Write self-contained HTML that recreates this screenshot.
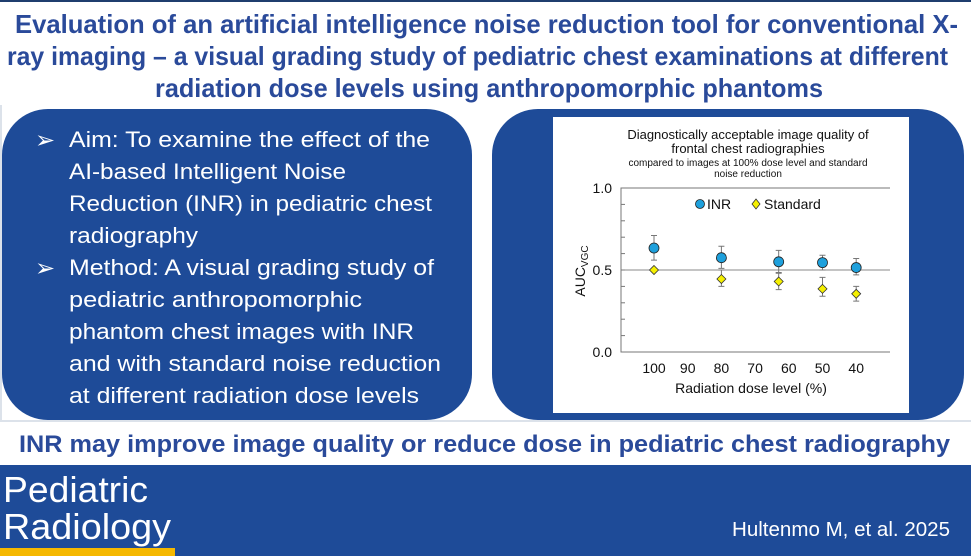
<!DOCTYPE html>
<html><head><meta charset="utf-8"><style>
html,body{margin:0;padding:0;background:#fff;}
svg{display:block;}
</style></head><body>
<svg width="971" height="556" viewBox="0 0 971 556" xmlns="http://www.w3.org/2000/svg" font-family="Liberation Sans, sans-serif">
<line x1="0" y1="1" x2="971" y2="1" stroke="#1f3d6e" stroke-width="2"/>
<g fill="#2a4a9a" font-weight="bold" font-size="26">
<text x="15" y="33" textLength="943" lengthAdjust="spacingAndGlyphs">Evaluation of an artificial intelligence noise reduction tool for conventional X-</text>
<text x="7" y="65" textLength="941" lengthAdjust="spacingAndGlyphs">ray imaging – a visual grading study of pediatric chest examinations at different</text>
<text x="155" y="97" textLength="668" lengthAdjust="spacingAndGlyphs">radiation dose levels using anthropomorphic phantoms</text>
</g>
<line x1="1" y1="105" x2="1" y2="420" stroke="#b8c4d4" stroke-width="1"/>
<line x1="0" y1="421" x2="971" y2="421" stroke="#b8c4d4" stroke-width="1"/>
<rect x="2" y="109" width="470" height="311" rx="46" fill="#1e4b98"/>
<g fill="#fff" font-size="22">
<text x="35" y="148" font-size="24">➢</text>
<text x="69" y="147" textLength="361" lengthAdjust="spacingAndGlyphs">Aim: To examine the effect of the</text>
<text x="69" y="179" textLength="277" lengthAdjust="spacingAndGlyphs">AI-based Intelligent Noise</text>
<text x="69" y="211" textLength="363" lengthAdjust="spacingAndGlyphs">Reduction (INR) in pediatric chest</text>
<text x="69" y="243" textLength="129" lengthAdjust="spacingAndGlyphs">radiography</text>
<text x="35" y="276" font-size="24">➢</text>
<text x="69" y="275" textLength="365" lengthAdjust="spacingAndGlyphs">Method: A visual grading study of</text>
<text x="69" y="307" textLength="293" lengthAdjust="spacingAndGlyphs">pediatric anthropomorphic</text>
<text x="69" y="339" textLength="345" lengthAdjust="spacingAndGlyphs">phantom chest images with INR</text>
<text x="69" y="371" textLength="372" lengthAdjust="spacingAndGlyphs">and with standard noise reduction</text>
<text x="69" y="403" textLength="350" lengthAdjust="spacingAndGlyphs">at different radiation dose levels</text>
</g>
<rect x="492" y="109" width="472" height="311" rx="46" fill="#1e4b98"/>
<rect x="553" y="117" width="356" height="296" fill="#fff"/>
<g id="chart">
<text x="748" y="139" text-anchor="middle" font-size="13" fill="#111">Diagnostically acceptable image quality of</text>
<text x="748" y="153" text-anchor="middle" font-size="13" fill="#111">frontal chest radiographies</text>
<text x="748" y="166" text-anchor="middle" font-size="10" fill="#111">compared to images at 100% dose level and standard</text>
<text x="748" y="177" text-anchor="middle" font-size="10" fill="#111">noise reduction</text>
<text transform="translate(585,271) rotate(-90)" text-anchor="middle" font-size="14" fill="#111">AUC<tspan font-size="10" dy="3">VGC</tspan></text>
<text x="751" y="393" text-anchor="middle" font-size="14" fill="#111">Radiation dose level (%)</text>
<circle cx="700" cy="204" r="4.5" fill="#1ea0dc" stroke="#222" stroke-width="0.8"/>
<text x="707" y="209" font-size="14" fill="#111">INR</text>
<path d="M756 199 L760 204 L756 209 L752 204 Z" fill="#f5f000" stroke="#333" stroke-width="0.8"/>
<text x="764" y="209" font-size="14" fill="#111">Standard</text>
</g>
<text x="19" y="452" textLength="931" lengthAdjust="spacingAndGlyphs" font-size="24" font-weight="bold" fill="#2a4a9a">INR may improve image quality or reduce dose in pediatric chest radiography</text>
<rect x="0" y="465" width="971" height="91" fill="#1e4b98"/>
<rect x="0" y="548" width="175" height="8" fill="#f5b800"/>
<text x="3" y="502" font-size="36" fill="#fff" textLength="145" lengthAdjust="spacingAndGlyphs">Pediatric</text>
<text x="3" y="539" font-size="36" fill="#fff" textLength="168" lengthAdjust="spacingAndGlyphs">Radiology</text>
<text x="950" y="536" text-anchor="end" font-size="20" fill="#fff" textLength="218" lengthAdjust="spacingAndGlyphs">Hultenmo M, et al. 2025</text>
</svg>
<script>
const xTicks = [100, 90, 80, 70, 60, 50, 40];
const yTicks = [0.0, 0.5, 1.0];
const doses = [100, 80, 63, 50, 40];
const inrValues = [0.634, 0.575, 0.55, 0.545, 0.515];
const inrLow = [0.56, 0.51, 0.48, 0.50, 0.47];
const inrHigh = [0.71, 0.645, 0.62, 0.59, 0.57];
const stdValues = [0.50, 0.445, 0.43, 0.385, 0.355];
const stdLow = [0.50, 0.40, 0.38, 0.34, 0.31];
const stdHigh = [0.50, 0.50, 0.485, 0.455, 0.40];

const NS = 'http://www.w3.org/2000/svg';
const g = document.getElementById('chart');
const X0 = 621, X1 = 890, Y0 = 352, Y1 = 188;
function xs(d){ return 654 + (100 - d) * 3.37; }
function ys(v){ return Y0 - v * (Y0 - Y1); }
function mk(tag, attrs){ const e = document.createElementNS(NS, tag); for (const k in attrs) e.setAttribute(k, attrs[k]); g.appendChild(e); return e; }

let e;
e = mk('path', {d:`M${X1} ${Y1} L${X0} ${Y1} L${X0} ${Y0} L${X1} ${Y0}`, fill:'none', stroke:'#777', 'stroke-width':1});


e = mk('line', {x1:X0, x2:X1, y1:ys(0.5), y2:ys(0.5), stroke:'#888', 'stroke-width':1});


for (let i = 1; i < 10; i++) {
  e = mk('line', {x1:X0, x2:X0 + 4, y1:ys(i / 10), y2:ys(i / 10), stroke:'#777', 'stroke-width':1});
  
  
}
yTicks.forEach(v => {
  e = mk('text', {x:612, y:ys(v) + 5, 'text-anchor':'end', 'font-size':14, fill:'#111'});
  e.textContent = v.toFixed(1);
  
  
});
xTicks.forEach(d => {
  e = mk('text', {x:xs(d), y:373, 'text-anchor':'middle', 'font-size':14, fill:'#111'});
  e.textContent = d;
  
  
});
function errbar(x, lo, hi){
  if (hi - lo < 0.001) return;
  e = mk('path', {d:`M${x} ${ys(lo)} L${x} ${ys(hi)} M${x-3} ${ys(lo)} L${x+3} ${ys(lo)} M${x-3} ${ys(hi)} L${x+3} ${ys(hi)}`, stroke:'#777', 'stroke-width':1, fill:'none'});
  
  
}
doses.forEach((d, i) => {
  const x = xs(d);
  errbar(x, stdLow[i], stdHigh[i]);
  errbar(x, inrLow[i], inrHigh[i]);
  const sy = ys(stdValues[i]);
  e = mk('path', {d:`M${x} ${sy-4.5} L${x+4.5} ${sy} L${x} ${sy+4.5} L${x-4.5} ${sy} Z`, fill:'#f5f000', stroke:'#333', 'stroke-width':0.8});
  
  
  e = mk('circle', {cx:x, cy:ys(inrValues[i]), r:5, fill:'#1ea0dc', stroke:'#222', 'stroke-width':0.8});
  
  
});
</script>
</body></html>
